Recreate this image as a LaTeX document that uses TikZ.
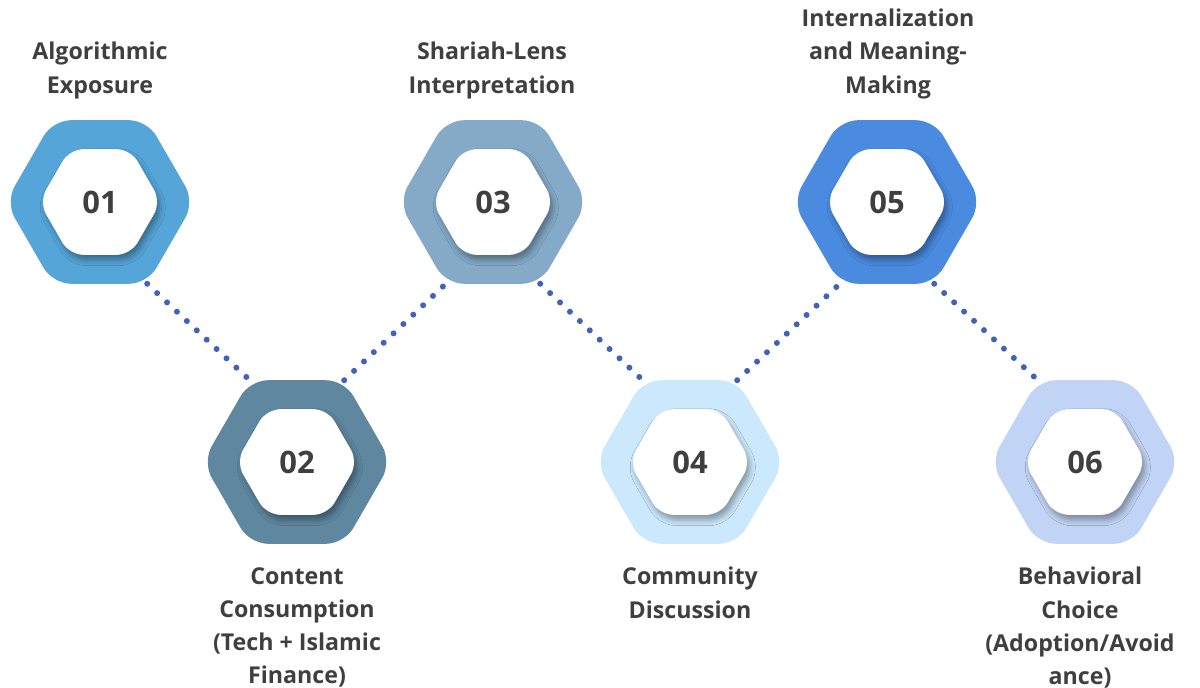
\documentclass[tikz,border=0pt]{standalone}
\usepackage{fontspec}
\setmainfont{Open Sans}[UprightFont=* Bold]
\usepackage{tikz}
\usetikzlibrary{shapes.geometric,shadows.blur,positioning}

\definecolor{stepA}{HTML}{55A5D9}
\definecolor{stepB}{HTML}{5F87A0}
\definecolor{stepC}{HTML}{84AAC8}
\definecolor{stepD}{HTML}{CCE8FC}
\definecolor{stepE}{HTML}{4A8BE0}
\definecolor{stepF}{HTML}{C2D4F5}
\definecolor{dotBlue}{HTML}{4262B8}
\definecolor{labelGray}{HTML}{3F3F3F}

\begin{document}
\begin{tikzpicture}[x=0.025cm, y=-0.025cm,
  outerhex/.style={regular polygon, regular polygon sides=6, minimum size=4.72cm,
    inner sep=0pt, outer sep=0pt, rounded corners=0.45cm, draw=none},
  innerhex/.style={regular polygon, regular polygon sides=6, minimum size=3.05cm,
    inner sep=0pt, outer sep=0pt, rounded corners=0.35cm, fill=white,
    blur shadow={shadow xshift=0.07cm, shadow yshift=-0.13cm, shadow blur radius=0.14cm, shadow opacity=35},
    text=labelGray, font=\fontsize{22}{26}\selectfont},
  toplabel/.style={anchor=south, align=center, inner sep=0pt, text=labelGray,
    font=\fontsize{16.5}{23.6}\selectfont},
  botlabel/.style={anchor=north, align=center, inner sep=0pt, text=labelGray,
    font=\fontsize{16.5}{23.6}\selectfont},
  dots/.style={dotBlue, line width=0.15cm, line cap=round, dash pattern=on 0pt off 0.34cm}]
  \useasboundingbox (0,0) rectangle (1200,688);

  % Outer hexagons, zig-zag
  \node[outerhex, fill=stepA] (h1) at (100,202) {};
  \node[outerhex, fill=stepB] (h2) at (297,462) {};
  \node[outerhex, fill=stepC] (h3) at (493,202) {};
  \node[outerhex, fill=stepD] (h4) at (690,462) {};
  \node[outerhex, fill=stepE] (h5) at (887,202) {};
  \node[outerhex, fill=stepF] (h6) at (1085,462) {};

  % Dotted links between corners
  \draw[dots] (h1.-60) -- (h2.120);
  \draw[dots] (h2.60) -- (h3.-120);
  \draw[dots] (h3.-60) -- (h4.120);
  \draw[dots] (h4.60) -- (h5.-120);
  \draw[dots] (h5.-60) -- (h6.120);

  % Inner white hexagons with numbers
  \node[innerhex] (n1) at (h1) {01};
  \node[innerhex] (n2) at (h2) {02};
  \node[innerhex] (n3) at (h3) {03};
  \node[innerhex] (n4) at (h4) {04};
  \node[innerhex] (n5) at (h5) {05};
  \node[innerhex] (n6) at (h6) {06};

  % Labels
  \node[toplabel] (t1) at (100,99) {Algorithmic\\Exposure};
  \node[toplabel] (t3) at (492,99) {Shariah-Lens\\Interpretation};
  \node[toplabel] (t5) at (888,99) {Internalization\\and Meaning-\\Making};
  \node[botlabel] (t2) at (297,567) {Content\\Consumption\\(Tech + Islamic\\Finance)};
  \node[botlabel] (t4) at (690,567) {Community\\Discussion};
  \node[botlabel] (t6) at (1080,567) {Behavioral\\Choice\\(Adoption/Avoid\\ance)};
\end{tikzpicture}
\end{document}
